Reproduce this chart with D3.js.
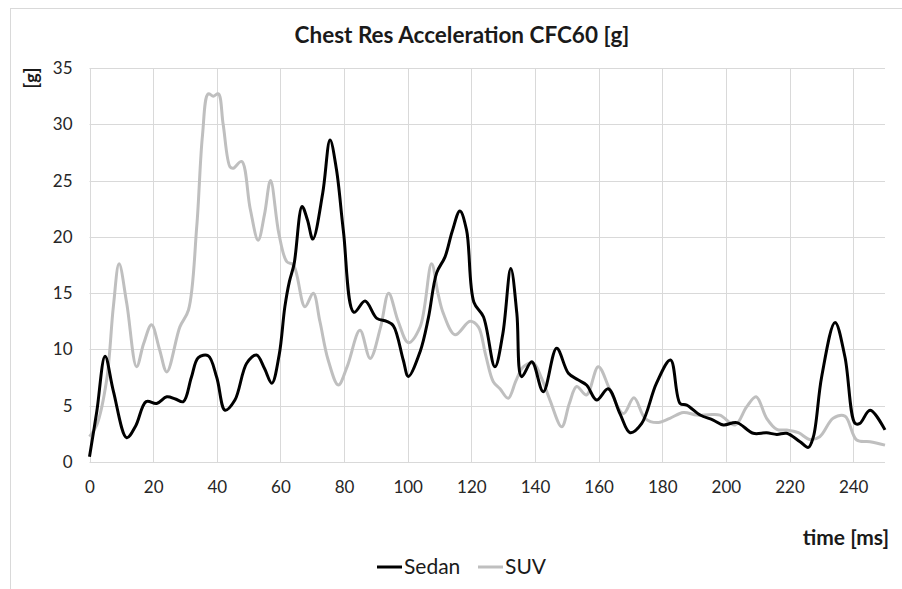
<!DOCTYPE html>
<html lang="en">
<head>
    <meta charset="utf-8" />
    <title>Chest Res Acceleration CFC60</title>
    <script src="https://d3js.org/d3.v7.min.js"></script>
    <style>
        body { margin: 0; background: #fff; }
        svg { display: block; font-family: Lato, "Open Sans", sans-serif; }
    </style>
</head>
<body>
    <svg></svg>
    <script>
        let width = 902,
            height = 589;

        // chart data
        let chartTitle = "Chest Res Acceleration CFC60 [g]";
        let seriesNames = ["Sedan", "SUV"];
        let xTicks = [0, 20, 40, 60, 80, 100, 120, 140, 160, 180, 200, 220, 240];
        let yTicks = [0, 5, 10, 15, 20, 25, 30, 35];

        let sedanTime = [0, 2.3, 4.9, 7.5, 11.7, 14.5, 17.8, 21.1, 24.3, 27, 29.5, 32, 34.2, 37.3, 40, 42.6, 45.7, 49.4, 52.5, 55, 57.3, 59.6, 61.4, 62.8, 64.3, 66.8, 68.5, 70.2, 73.3, 75.6, 77.6, 79.8, 83.1, 86.6, 90.3, 93.4, 95.5, 98.6, 100.2, 103.9, 106.5, 109.1, 111.7, 114, 116.4, 118.5, 120.8, 123.8, 127.4, 129.9, 132.4, 134.3, 135.8, 139, 142.6, 146.8, 150.5, 153.5, 156.2, 159.4, 163, 166.7, 169.9, 173.5, 178.2, 182.6, 185.6, 187.7, 191.9, 196, 199.2, 203.4, 208.6, 212.8, 216, 219.1, 223.3, 225.9, 227.5, 230.1, 234.3, 237.4, 240.6, 242.1, 245.3, 250];
        let sedanG = [0.47, 4.5, 9.4, 6.3, 2.16, 3.2, 5.36, 5.2, 5.8, 5.6, 5.36, 7.5, 9.27, 9.44, 7.5, 4.6, 5.5, 8.77, 9.5, 8.3, 7.0, 9.5, 13.8, 16.0, 17.6, 22.7, 21.5, 19.8, 23.9, 28.6, 26, 20.5, 13.3, 14.3, 12.76, 12.5, 12.1, 9.06, 7.6, 9.8, 12.8, 16.8, 18.2, 20.5, 22.3, 20.6, 14.2, 12.9, 8.46, 11.4, 17.2, 13.2, 7.58, 8.9, 6.25, 10.1, 7.88, 7.3, 6.84, 5.5, 6.5, 4.3, 2.6, 3.4, 7.0, 9.06, 5.2, 5.06, 4.17, 3.73, 3.29, 3.5, 2.55, 2.6, 2.45, 2.55, 1.8, 1.3, 2.25, 7.58, 12.4, 9.35, 3.43, 3.43, 4.6, 2.85];

        let suvTime = [0, 2.3, 5.4, 7.5, 9.3, 11.7, 14.8, 17, 19.5, 22, 24.3, 28.4, 31.1, 33.7, 35.5, 37.3, 38.9, 40.5, 42, 44.2, 45.2, 47.8, 50.5, 53, 55, 56.9, 59.5, 62, 64.1, 67.7, 70.3, 72.4, 75, 78.2, 81, 85, 88.2, 91.5, 94, 97, 100.2, 103.9, 107.5, 109.5, 111.2, 114.9, 119.6, 122.2, 124.5, 126.9, 129, 131.6, 134, 136.3, 139.5, 142, 144.7, 148.4, 150.8, 153.1, 156.2, 159.9, 163.6, 167.8, 171.1, 174.6, 178.3, 182.4, 186.6, 190.8, 194.5, 198.1, 202.9, 206.5, 209.5, 212.8, 216, 219.1, 222.8, 226.4, 229.5, 233.7, 237.4, 241.1, 245.3, 250];
        let suvG = [2.25, 3.3, 7.3, 13.8, 17.6, 14.1, 8.46, 10.5, 12.2, 10, 8.0, 12.0, 13.5, 20.9, 29, 32.7, 32.5, 32.7, 30, 26.2, 26.1, 26.7, 22.5, 19.7, 22, 25.0, 20.3, 17.8, 17.5, 13.8, 15.0, 12.5, 9.06, 6.84, 8.5, 11.7, 9.2, 12, 15.0, 12.5, 10.6, 12.0, 17.6, 15, 13.2, 11.3, 12.5, 12.0, 9.5, 7.13, 6.5, 5.66, 7.2, 8.46, 8.77, 7.5, 5.5, 3.13, 5.2, 6.7, 5.95, 8.46, 6.4, 4.3, 5.7, 3.88, 3.5, 3.88, 4.4, 4.17, 4.2, 4.17, 3.29, 4.9, 5.8, 3.88, 2.9, 2.84, 2.6, 2.0, 2.25, 3.88, 4.08, 1.95, 1.8, 1.5];

        let colors = ["#000000", "#bfbfbf"];

        let series = [
            { name: seriesNames[0], values: sedanTime.map((t, i) => ({ t: t, g: sedanG[i] })) },
            { name: seriesNames[1], values: suvTime.map((t, i) => ({ t: t, g: suvG[i] })) }
        ];

        let svg = d3.select("svg").attr("width", width).attr("height", height);

        let x = d3.scaleLinear().domain([0, 250]).range([89.5, 885]);
        let y = d3.scaleLinear().domain([0, 35]).range([462, 68]);

        // chart area frame (cut by the picture on right and bottom)
        svg.append("rect")
            .attr("x", 10.5).attr("y", 8.5)
            .attr("width", 920).attr("height", 620)
            .attr("fill", "none")
            .attr("stroke", "#d9d9d9");

        // title
        svg.append("text")
            .attr("x", 462).attr("y", 43)
            .attr("text-anchor", "middle")
            .attr("font-weight", "bold")
            .attr("font-size", 22.5)
            .attr("fill", "#1a1a1a")
            .text(chartTitle);

        // grid
        let grid = svg.append("g").attr("stroke", "#d9d9d9").attr("stroke-width", 1);
        grid.selectAll("line.h")
            .data(yTicks)
            .join("line")
            .attr("class", "h")
            .attr("x1", x(0)).attr("x2", x(250))
            .attr("y1", d => Math.round(y(d)) + 0.5)
            .attr("y2", d => Math.round(y(d)) + 0.5);
        grid.selectAll("line.v")
            .data(xTicks)
            .join("line")
            .attr("class", "v")
            .attr("y1", y(0)).attr("y2", y(35))
            .attr("x1", d => Math.round(x(d)) + 0.5)
            .attr("x2", d => Math.round(x(d)) + 0.5);

        // axes (labels only, Excel style)
        let yAxis = d3.axisLeft(y).tickValues(yTicks).tickSize(0).tickPadding(17);
        svg.append("g")
            .attr("transform", `translate(${x(0)},0)`)
            .call(yAxis)
            .call(g => g.select(".domain").remove())
            .selectAll("text")
            .attr("font-family", "Lato, sans-serif")
            .attr("font-size", 17)
            .attr("fill", "#262626");

        let xAxis = d3.axisBottom(x).tickValues(xTicks).tickSize(0).tickPadding(19);
        svg.append("g")
            .attr("transform", `translate(0,${y(0)})`)
            .call(xAxis)
            .call(g => g.select(".domain").remove())
            .selectAll("text")
            .attr("font-family", "Lato, sans-serif")
            .attr("font-size", 17)
            .attr("fill", "#262626");

        // axis titles
        svg.append("text")
            .attr("transform", "translate(38,78) rotate(-90)")
            .attr("text-anchor", "middle")
            .attr("font-weight", "bold")
            .attr("font-size", 18)
            .attr("fill", "#1a1a1a")
            .text("[g]");

        svg.append("text")
            .attr("x", 889).attr("y", 545)
            .attr("text-anchor", "end")
            .attr("font-weight", "bold")
            .attr("font-size", 21)
            .attr("fill", "#1a1a1a")
            .text("time [ms]");

        // lines
        let line = d3.line()
            .x(d => x(d.t))
            .y(d => y(d.g))
            .curve(d3.curveCatmullRom.alpha(0.5));

        svg.append("g")
            .selectAll("path")
            .data(series.slice().reverse())
            .join("path")
            .attr("fill", "none")
            .attr("stroke", d => colors[seriesNames.indexOf(d.name)])
            .attr("stroke-width", 3)
            .attr("stroke-linejoin", "round")
            .attr("d", d => line(d.values));

        // legend
        let legendX = [377, 478];
        let legend = svg.append("g")
            .selectAll("g")
            .data(seriesNames)
            .join("g")
            .attr("transform", (d, i) => `translate(${legendX[i]},567)`);
        legend.append("line")
            .attr("x1", 0).attr("x2", 25)
            .attr("stroke", (d, i) => colors[i])
            .attr("stroke-width", 3);
        legend.append("text")
            .attr("x", 27).attr("y", 7)
            .attr("font-size", 21)
            .attr("fill", "#1a1a1a")
            .text(d => d);
    </script>
</body>
</html>
